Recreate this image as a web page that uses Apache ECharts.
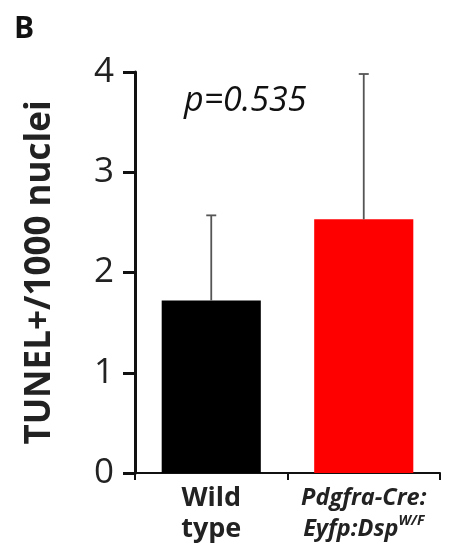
<!DOCTYPE html>
<html>
<head>
<meta charset="utf-8">
<script src="https://cdn.jsdelivr.net/npm/echarts@6/dist/echarts.min.js"></script>
<style>
  html, body { margin: 0; padding: 0; background: #fff; }
  #main { width: 455px; height: 551px; }
</style>
</head>
<body>
<div id="main"></div>
<script>
// data
var categories = ['Wild type', 'Pdgfra-Cre:Eyfp:Dsp'];
var means = [1.72, 2.53];
var errors = [0.85, 1.45];
var barColors = ['#000000', '#ff0000'];
var yTicks = [0, 1, 2, 3, 4];

var myChart = echarts.init(document.getElementById('main'));

var font = '"Open Sans", "DejaVu Sans", sans-serif';

var option = {
  animation: false,
  grid: { left: 135, right: 15, top: 72, bottom: 78 },
  graphic: [
    { type: 'text', left: 14, top: 14,
      style: { text: 'B', font: 'bold 30px ' + font, fill: '#111' } },
    { type: 'text', left: 184, top: 84,
      style: { text: 'p=0.535', font: 'italic 34px ' + font, fill: '#111' } }
  ],
  xAxis: {
    type: 'category',
    data: categories,
    axisLine: { lineStyle: { color: '#111', width: 2 } },
    axisTick: { show: true, length: 7, lineStyle: { color: '#111', width: 2 } },
    axisLabel: {
      margin: 10,
      interval: 0,
      formatter: function (v, i) {
        if (i === 0) return '{b|Wild}\n{b|type}';
        return '{i|Pdgfra-Cre:}\n{i|Eyfp:Dsp}{sup|W/F}';
      },
      rich: {
        b: { fontFamily: font, fontWeight: 'bold', fontSize: 27, color: '#222', lineHeight: 31 },
        i: { fontFamily: font, fontWeight: 'bold', fontStyle: 'italic', fontSize: 23.5, color: '#222', lineHeight: 31 },
        sup: { fontFamily: font, fontWeight: 'bold', fontStyle: 'italic', fontSize: 14, color: '#222', verticalAlign: 'top', padding: [0, 0, 12, 0] }
      }
    }
  },
  yAxis: {
    type: 'value',
    min: yTicks[0],
    max: yTicks[yTicks.length - 1],
    interval: 1,
    name: 'TUNEL+/1000 nuclei',
    nameLocation: 'middle',
    nameRotate: 90,
    nameGap: 77,
    nameTextStyle: { fontFamily: font, fontWeight: 'bold', fontSize: 35, color: '#222' },
    splitLine: { show: false },
    axisLine: { show: true, lineStyle: { color: '#111', width: 3 } },
    axisTick: { show: true, length: 12, lineStyle: { color: '#111', width: 3 } },
    axisLabel: { fontFamily: font, fontSize: 35, color: '#222', margin: 21 }
  },
  series: [
    {
      type: 'bar',
      barWidth: '65%',
      data: means.map(function (v, i) {
        return { value: v, itemStyle: { color: barColors[i] } };
      }),
      z: 2
    },
    {
      // 只画向上的误差线
      type: 'custom',
      z: 3,
      data: means.map(function (v, i) { return [i, v, v + errors[i]]; }),
      renderItem: function (params, api) {
        var lo = api.coord([api.value(0), api.value(1)]);
        var hi = api.coord([api.value(0), api.value(2)]);
        var cap = 5;
        var style = { stroke: '#555', lineWidth: 1.8 };
        return {
          type: 'group',
          children: [
            { type: 'line', shape: { x1: lo[0], y1: lo[1], x2: hi[0], y2: hi[1] }, style: style },
            { type: 'line', shape: { x1: hi[0] - cap, y1: hi[1], x2: hi[0] + cap, y2: hi[1] }, style: style }
          ]
        };
      }
    }
  ]
};

myChart.setOption(option);
</script>
</body>
</html>
